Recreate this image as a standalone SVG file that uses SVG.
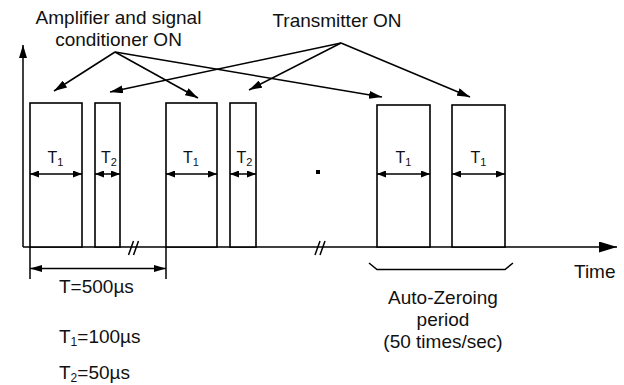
<svg xmlns="http://www.w3.org/2000/svg" width="624" height="385" viewBox="0 0 624 385">
<style>
  .ln{stroke:#000;stroke-width:1.5;fill:none}
  .box{stroke:#000;stroke-width:1.6;fill:#fff}
  .t{font-family:"Liberation Sans",Arial,sans-serif;fill:#111;font-size:19px}
  .ts{font-family:"Liberation Sans",Arial,sans-serif;fill:#111;font-size:16px}
</style>
<defs>
  <marker id="ah" markerUnits="userSpaceOnUse" markerWidth="13" markerHeight="8" viewBox="0 0 13 8" refX="13" refY="4" orient="auto"><path d="M0,0 L13,4 L0,8 z" fill="#000"/></marker>
  <marker id="ax" markerUnits="userSpaceOnUse" markerWidth="18" markerHeight="11" viewBox="0 0 18 11" refX="18" refY="5.5" orient="auto"><path d="M0,0 L18,5.5 L0,11 z" fill="#000"/></marker>
  <marker id="dm" markerUnits="userSpaceOnUse" markerWidth="9" markerHeight="7" viewBox="0 0 9 7" refX="9" refY="3.5" orient="auto-start-reverse"><path d="M0,0 L9,3.5 L0,7 z" fill="#000"/></marker>
  <marker id="dt" markerUnits="userSpaceOnUse" markerWidth="12" markerHeight="7" viewBox="0 0 12 7" refX="12" refY="3.5" orient="auto-start-reverse"><path d="M0,0 L12,3.5 L0,7 z" fill="#000"/></marker>
</defs>

<g id="axes">
  <line class="ln" x1="23" y1="247" x2="23" y2="45" marker-end="url(#ah)"/>
  <line class="ln" x1="23" y1="247" x2="617" y2="247" marker-end="url(#ax)"/>
  <path class="ln" d="M128.5,255 L133.5,241 M133.5,255 L138.5,241"/>
  <path class="ln" d="M315,255 L320,241 M320,255 L325,241"/>
  <text class="t" x="574" y="278">Time</text>
</g>

<g id="pulse1">
  <rect class="box" x="30" y="103" width="52" height="144"/>
  <text class="ts" x="47.5" y="163">T<tspan font-size="11" dy="3">1</tspan></text>
  <line class="ln" x1="30" y1="174" x2="82" y2="174" marker-start="url(#dm)" marker-end="url(#dm)"/>
</g>
<g id="pulse2">
  <rect class="box" x="95" y="103" width="25" height="144"/>
  <text class="ts" x="101" y="163">T<tspan font-size="11" dy="3">2</tspan></text>
  <line class="ln" x1="95" y1="174" x2="120" y2="174" marker-start="url(#dm)" marker-end="url(#dm)"/>
</g>
<g id="pulse3">
  <rect class="box" x="166" y="103" width="51" height="144"/>
  <text class="ts" x="183" y="163">T<tspan font-size="11" dy="3">1</tspan></text>
  <line class="ln" x1="166" y1="174" x2="217" y2="174" marker-start="url(#dm)" marker-end="url(#dm)"/>
</g>
<g id="pulse4">
  <rect class="box" x="230" y="103" width="26" height="144"/>
  <text class="ts" x="236.5" y="163">T<tspan font-size="11" dy="3">2</tspan></text>
  <line class="ln" x1="230" y1="174" x2="256" y2="174" marker-start="url(#dm)" marker-end="url(#dm)"/>
</g>
<g id="pulse5">
  <rect class="box" x="377" y="105" width="53" height="142"/>
  <text class="ts" x="395.5" y="163">T<tspan font-size="11" dy="3">1</tspan></text>
  <line class="ln" x1="377" y1="174" x2="430" y2="174" marker-start="url(#dm)" marker-end="url(#dm)"/>
</g>
<g id="pulse6">
  <rect class="box" x="452" y="105" width="53" height="142"/>
  <text class="ts" x="470.5" y="163">T<tspan font-size="11" dy="3">1</tspan></text>
  <line class="ln" x1="452" y1="174" x2="505" y2="174" marker-start="url(#dm)" marker-end="url(#dm)"/>
</g>

<g id="dot">
  <rect x="316" y="170" width="4" height="4" fill="#000"/>
</g>

<g id="period-T">
  <line class="ln" x1="30" y1="247" x2="30" y2="279"/>
  <line class="ln" x1="166" y1="247" x2="166" y2="279"/>
  <line class="ln" x1="30" y1="268.5" x2="166" y2="268.5" marker-start="url(#dt)" marker-end="url(#dt)"/>
  <text class="t" x="59" y="293">T=500µs</text>
</g>

<g id="legend">
  <text class="t" x="59" y="343">T<tspan font-size="12" dy="3">1</tspan><tspan dy="-3">=100µs</tspan></text>
  <text class="t" x="59" y="379">T<tspan font-size="12" dy="3">2</tspan><tspan dy="-3">=50µs</tspan></text>
</g>

<g id="auto-zero">
  <polyline class="ln" points="369,263 377,269.5 505,269.5 513,263"/>
  <text class="t" text-anchor="middle" x="443" y="304">Auto-Zeroing</text>
  <text class="t" text-anchor="middle" x="443" y="326">period</text>
  <text class="t" text-anchor="middle" x="443" y="348">(50 times/sec)</text>
</g>

<g id="label-amp">
  <text class="t" text-anchor="middle" x="118.5" y="23.5" font-size="19.5">Amplifier and signal</text>
  <text class="t" text-anchor="middle" x="118.5" y="46" font-size="19.5">conditioner ON</text>
</g>
<g id="label-tx">
  <text class="t" text-anchor="middle" x="337" y="27">Transmitter ON</text>
</g>

<g id="connectors">
  <line class="ln" x1="115" y1="52" x2="54" y2="91" marker-end="url(#ah)"/>
  <line class="ln" x1="115" y1="52" x2="198" y2="98" marker-end="url(#ah)"/>
  <line class="ln" x1="115" y1="52" x2="382" y2="97" marker-end="url(#ah)"/>
  <line class="ln" x1="341" y1="43" x2="110" y2="92" marker-end="url(#ah)"/>
  <line class="ln" x1="341" y1="43" x2="249" y2="90" marker-end="url(#ah)"/>
  <line class="ln" x1="341" y1="43" x2="470" y2="97" marker-end="url(#ah)"/>
</g>
</svg>
